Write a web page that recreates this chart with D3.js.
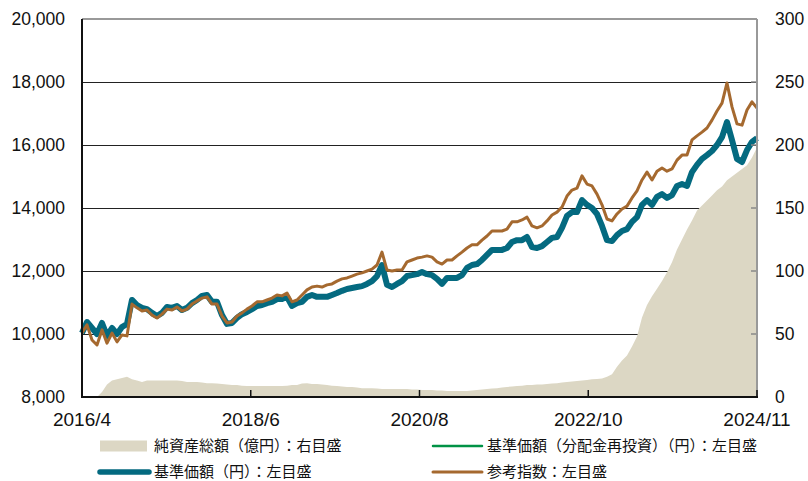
<!DOCTYPE html>
<html><head><meta charset="utf-8">
<script src="https://cdn.jsdelivr.net/npm/d3@7"></script>
<style>body{margin:0;background:#fff}svg{display:block}</style>
</head><body><svg id="chart" width="808" height="481"></svg>
<script>
// ---- data ----
const xTickLabels = ["2016/4", "2018/6", "2020/8", "2022/10", "2024/11"];
const leftTicks = [8000, 10000, 12000, 14000, 16000, 18000, 20000];
const rightTicks = [0, 50, 100, 150, 200, 250, 300];

// 基準価額(円) – evenly spaced observations from 2016/4 to 2024/11
const navPrice = [10030,10380,10190,10000,10350,9940,10190,10000,10220,10320,
11080,10920,10830,10790,10670,10570,10670,10860,10830,10890,
10760,10830,10980,11080,11210,11240,11020,11020,10600,10320,
10350,10510,10630,10700,10790,10890,10920,10980,11020,11110,
11110,11180,10890,10980,11020,11180,11240,11180,11180,11180,
11240,11300,11370,11430,11460,11490,11520,11590,11680,11840,
12190,11560,11490,11590,11680,11840,11870,11900,11970,11900,
11870,11750,11590,11780,11780,11780,11870,12100,12190,12220,
12350,12510,12670,12670,12670,12730,12920,12980,12980,13080,
12760,12730,12790,12920,13050,13080,13370,13750,13870,13870,
14250,14100,14000,13810,13430,12980,12950,13140,13270,13330,
13560,13710,14100,14250,14100,14350,14440,14320,14410,14700,
14760,14700,15140,15370,15560,15680,15810,16000,16250,16730,
16160,15560,15460,15840,16100,16220];

// 基準価額(分配金再投資)(円) – no distributions, identical to 基準価額
const navReinvested = [10030,10380,10190,10000,10350,9940,10190,10000,10220,10320,
11080,10920,10830,10790,10670,10570,10670,10860,10830,10890,
10760,10830,10980,11080,11210,11240,11020,11020,10600,10320,
10350,10510,10630,10700,10790,10890,10920,10980,11020,11110,
11110,11180,10890,10980,11020,11180,11240,11180,11180,11180,
11240,11300,11370,11430,11460,11490,11520,11590,11680,11840,
12190,11560,11490,11590,11680,11840,11870,11900,11970,11900,
11870,11750,11590,11780,11780,11780,11870,12100,12190,12220,
12350,12510,12670,12670,12670,12730,12920,12980,12980,13080,
12760,12730,12790,12920,13050,13080,13370,13750,13870,13870,
14250,14100,14000,13810,13430,12980,12950,13140,13270,13330,
13560,13710,14100,14250,14100,14350,14440,14320,14410,14700,
14760,14700,15140,15370,15560,15680,15810,16000,16250,16730,
16160,15560,15460,15840,16100,16220];

// 参考指数
const refIndex = [10030,10290,9810,9650,10130,9710,10030,9750,9970,9940,
10950,10830,10730,10760,10600,10510,10630,10790,10760,10860,
10730,10790,10950,11050,11140,11180,10950,10950,10570,10350,
10380,10570,10670,10790,10890,11020,11020,11080,11140,11240,
11210,11300,11020,11080,11240,11400,11490,11520,11490,11560,
11590,11680,11750,11780,11840,11900,11940,12000,12060,12190,
12600,12030,12000,12030,12030,12290,12350,12410,12440,12480,
12440,12290,12220,12350,12350,12480,12600,12730,12830,12830,
12980,13110,13270,13270,13270,13330,13560,13560,13620,13710,
13430,13370,13430,13590,13780,13870,14030,14380,14570,14630,
15020,14760,14700,14440,14100,13650,13590,13810,13970,14060,
14320,14540,14890,15140,14890,15170,15270,15170,15240,15520,
15680,15680,16160,16290,16410,16540,16790,17080,17330,17970,
17210,16670,16630,17110,17370,17170];

// 純資産総額(億円)
const netAssets = [0,0,0,0,4,10,13,14,15,16,
14,13,12,13,13,13,13,13,13,13,
12.7,12,12,12,11.5,11,11,10.7,10.3,10,
9.5,9.5,9,8.7,8.7,8.7,8.7,8.7,8.7,8.7,
8.7,9,9.5,9.5,10.7,11,10.3,10.3,10,9.5,
9,8.7,8.3,8,8,7.5,7,7,7,6.7,
6.3,6.3,6.3,6.3,6.3,6.3,6,6,5.6,5.6,
5.6,5.2,5.2,4.8,4.8,4.8,4.8,4.8,5.2,5.6,
6,6.3,6.7,7,7.5,8,8.3,8.7,9,9.5,
9.5,10,10,10.3,10.7,11,11.5,12,12.3,12.7,
13,13.5,14,14.3,14.7,16,18,24,29,33,
40,48,63,73,80,86,92,99,107,117,
125,133,140,148,152,156,160,164,167,172,
175,178,181,184,190,198];

const legendItems = [
  {label: "純資産総額（億円）：右目盛", kind: "area", color: "#dcd7c4"},
  {label: "基準価額（分配金再投資）（円）：左目盛", kind: "line", color: "#009245", width: 2.5},
  {label: "基準価額（円）：左目盛", kind: "line", color: "#046a80", width: 5.5},
  {label: "参考指数：左目盛", kind: "line", color: "#a5692f", width: 3}
];

// ---- layout ----
const W = 808, H = 481;
const m = {left: 82, right: 51, top: 19, bottom: 84};
const iw = W - m.left - m.right, ih = H - m.top - m.bottom;
const svg = d3.select("#chart");
const g = svg.append("g").attr("transform", `translate(${m.left},${m.top})`);

const x = d3.scaleLinear().domain([0, 1]).range([0, iw]);
const yL = d3.scaleLinear().domain([8000, 20000]).range([ih, 0]);
const yR = d3.scaleLinear().domain([0, 300]).range([ih, 0]);
const xi = arr => (d, i) => x(i / (arr.length - 1));

const numFont = "'Liberation Sans', Arial, sans-serif";
const jpFont = "'Noto Sans CJK JP', sans-serif";

// gridlines
g.append("g").selectAll("line").data(leftTicks.filter(v => v > 8000 && v < 20000)).join("line")
  .attr("x1", 0).attr("x2", iw)
  .attr("y1", d => Math.round(yL(d)) + 0.5).attr("y2", d => Math.round(yL(d)) + 0.5)
  .attr("stroke", "#222").attr("stroke-width", 1);

// area
g.append("path").datum(netAssets)
  .attr("fill", "#dcd7c4")
  .attr("d", d3.area().x(xi(netAssets)).y0(ih).y1(d => yR(d)));

// lines
const drawLine = (arr, color, w) => g.append("path").datum(arr)
  .attr("fill", "none").attr("stroke", color).attr("stroke-width", w)
  .attr("stroke-linejoin", "round")
  .attr("d", d3.line().x(xi(arr)).y(d => yL(d)));
drawLine(navReinvested, "#009245", 2.5);
drawLine(navPrice, "#046a80", 6);
drawLine(refIndex, "#a5692f", 3);

// right inner ticks
g.append("g").selectAll("line").data(rightTicks).join("line")
  .attr("x1", iw - 6).attr("x2", iw)
  .attr("y1", d => yR(d)).attr("y2", d => yR(d))
  .attr("stroke", "#888").attr("stroke-width", 1.5);

// frame
g.append("line").attr("x1", 0).attr("x2", iw).attr("y1", 0).attr("y2", 0)
  .attr("stroke", "#999").attr("stroke-width", 2);
g.append("line").attr("x1", iw).attr("x2", iw).attr("y1", 0).attr("y2", ih)
  .attr("stroke", "#999").attr("stroke-width", 2);
g.append("line").attr("x1", 0).attr("x2", 0).attr("y1", 0).attr("y2", ih + 1)
  .attr("stroke", "#111").attr("stroke-width", 2);
g.append("line").attr("x1", -1).attr("x2", iw + 1).attr("y1", ih).attr("y2", ih)
  .attr("stroke", "#111").attr("stroke-width", 2);

// x ticks and labels
const xt = xTickLabels.map((s, i) => ({s, t: i / (xTickLabels.length - 1)}));
g.append("g").selectAll("line").data(xt).join("line")
  .attr("x1", d => x(d.t)).attr("x2", d => x(d.t))
  .attr("y1", ih).attr("y2", ih - 7)
  .attr("stroke", "#111").attr("stroke-width", 1.5);
g.append("g").selectAll("text").data(xt).join("text")
  .attr("x", d => x(d.t)).attr("y", ih + 29)
  .attr("text-anchor", "middle")
  .style("font-family", numFont).style("font-size", "19px").attr("fill", "#111")
  .text(d => d.s);

// left labels
g.append("g").selectAll("text").data(leftTicks).join("text")
  .attr("x", -17).attr("y", d => yL(d)).attr("dy", "0.36em")
  .attr("text-anchor", "end")
  .style("font-family", numFont).style("font-size", "17.5px").attr("fill", "#111")
  .text(d => d3.format(",")(d));

// right labels
g.append("g").selectAll("text").data(rightTicks).join("text")
  .attr("x", iw + 18).attr("y", d => yR(d)).attr("dy", "0.36em")
  .attr("text-anchor", "start")
  .style("font-family", numFont).style("font-size", "17.5px").attr("fill", "#111")
  .text(d => d);

// legend
const legPos = [[100, 446], [433, 446], [100, 472], [433, 472]];
const lg = svg.append("g");
legendItems.forEach((it, i) => {
  const [lx, ly] = legPos[i];
  if (it.kind === "area") {
    lg.append("rect").attr("x", lx).attr("y", ly - 5.5).attr("width", 47).attr("height", 11).attr("fill", it.color);
  } else {
    lg.append("line").attr("x1", lx).attr("x2", lx + 49).attr("y1", ly).attr("y2", ly)
      .attr("stroke", it.color).attr("stroke-width", it.width).attr("stroke-linecap", "round");
  }
  lg.append("text").attr("x", lx + 54).attr("y", ly).attr("dy", "0.36em")
    .style("font-family", jpFont).style("font-size", "15px").attr("fill", "#111")
    .text(it.label);
});
</script></body></html>
